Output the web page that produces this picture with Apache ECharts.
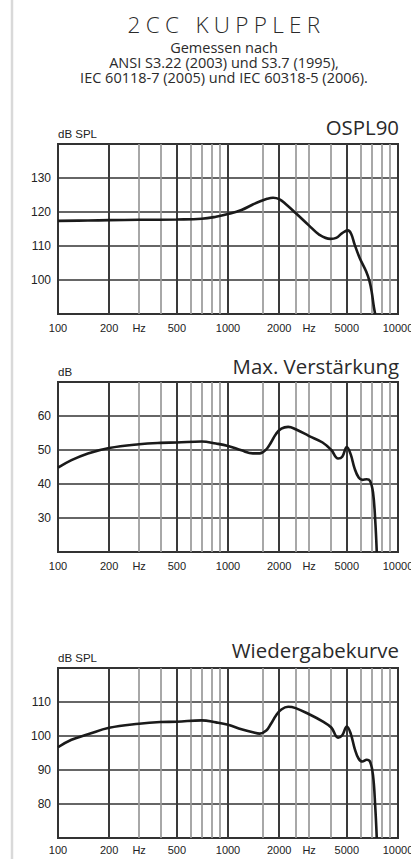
<!DOCTYPE html>
<html><head><meta charset="utf-8">
<script src="https://cdn.jsdelivr.net/npm/echarts@6/dist/echarts.min.js"></script>
<style>html,body{margin:0;padding:0;background:#fff;overflow:hidden}#c{width:411px;height:859px}</style>
</head><body><div id="c"></div>
<script>
// ---- text ----
const heading = '2CC KUPPLER';
const subLines = ['Gemessen nach', 'ANSI S3.22 (2003) und S3.7 (1995),', 'IEC 60118-7 (2005) und IEC 60318-5 (2006).'];
const chartTitles = ['OSPL90', 'Max. Verstärkung', 'Wiedergabekurve'];
const yNames = ['dB SPL', 'dB', 'dB SPL'];
const yMins = [90, 20, 70];
const yMaxs = [140, 70, 120];
// ---- x axis ticks / grid lines (Hz) ----
const xTickValues = [100, 200, 300, 500, 1000, 2000, 3000, 5000, 10000];
const xTickLabels = ['100', '200', 'Hz', '500', '1000', '2000', 'Hz', '5000', '10000'];
const majorLines = [200, 500, 1000, 2000, 5000];
const minorLines = [300, 400, 600, 700, 800, 900, 1600, 2500, 3000, 4000, 6000, 7000, 8000, 9000];
// ---- data ----
const osplFreq = [100, 150, 200, 300, 500, 700, 850, 1000, 1200, 1400, 1536, 1700, 1840, 2000, 2200, 2500, 3000, 3450, 4000, 4330, 4700, 5070, 5300, 5560, 5950, 6500, 6800, 7020, 7200, 7340];
const osplDb = [117.4, 117.5, 117.6, 117.7, 117.8, 118.0, 118.6, 119.4, 120.6, 122.2, 123.1, 123.9, 124.2, 123.8, 122.2, 119.7, 116.0, 113.3, 112.1, 112.4, 113.8, 114.6, 113.6, 110.4, 106.5, 102.5, 99.6, 96.2, 92.3, 90];
const gainFreq = [100, 120, 150, 200, 300, 400, 500, 700, 850, 1000, 1200, 1400, 1536, 1680, 1790, 1920, 2060, 2260, 2500, 3000, 3600, 4050, 4440, 4700, 5000, 5270, 5560, 5870, 6170, 6540, 6850, 7130, 7340, 7500];
const gainDb = [44.8, 47.0, 49.0, 50.6, 51.7, 52.1, 52.2, 52.5, 51.9, 51.2, 49.9, 49.0, 49.0, 50.2, 52.2, 54.8, 56.3, 56.8, 56.1, 54.1, 52.2, 50.0, 47.5, 48.0, 50.9, 48.7, 44.5, 41.9, 41.2, 41.4, 40.9, 37.5, 29.6, 20];
const respFreq = [100, 120, 150, 200, 300, 400, 500, 700, 850, 1000, 1200, 1400, 1536, 1680, 1790, 1920, 2060, 2260, 2500, 3000, 3600, 4050, 4440, 4700, 5000, 5270, 5560, 5870, 6170, 6540, 6850, 7130, 7340, 7500];
const respDb = [96.7, 98.9, 100.5, 102.4, 103.6, 104.1, 104.2, 104.6, 104.0, 103.3, 102.0, 101.1, 100.7, 101.6, 103.6, 106.1, 107.8, 108.6, 108.2, 106.4, 104.3, 102.5, 99.5, 100.2, 102.8, 100.7, 96.3, 93.3, 92.5, 93.0, 92.4, 88.4, 79.6, 70];

const curves = [[osplFreq, osplDb], [gainFreq, gainDb], [respFreq, respDb]];
const gridTops = [144, 382, 668];
const xLabelMargins = [8, 8, 6];
const titleY = [127, 366, 650];
const LABEL_FONT = '"Liberation Sans", Arial, sans-serif';
const TITLE_FONT = '"Open Sans", sans-serif';

const chart = echarts.init(document.getElementById('c'), null, {renderer: 'svg', width: 411, height: 859});

const grids = [], xAxes = [], yAxes = [], series = [];
gridTops.forEach((top, i) => {
  grids.push({left: 58, top: top, width: 340, height: 170, show: true, borderColor: '#333', borderWidth: 2,
    backgroundColor: 'transparent', containLabel: false, outerBoundsMode: 'none'});
  xAxes.push({type: 'log', logBase: 10, gridIndex: i, min: 100, max: 10000,
    axisLine: {show: false}, axisTick: {show: false}, splitLine: {show: false}, minorTick: {show: false},
    axisLabel: {customValues: xTickValues, margin: xLabelMargins[i], fontSize: 11, color: '#222', fontFamily: LABEL_FONT,
      hideOverlap: false,
      formatter: v => { const k = xTickValues.findIndex(t => Math.abs(t - v) < t * 1e-6); return k >= 0 ? xTickLabels[k] : ''; }}});
  yAxes.push({type: 'value', gridIndex: i, min: yMins[i], max: yMaxs[i], interval: 10,
    axisLine: {show: false}, axisTick: {show: false},
    axisLabel: {showMinLabel: false, showMaxLabel: false, margin: 7, fontSize: 12, color: '#222', fontFamily: LABEL_FONT},
    splitLine: {show: true, lineStyle: {color: '#333', width: 1.6}},
    name: yNames[i], nameLocation: 'end', nameGap: 10.5, nameMoveOverlap: false,
    nameTextStyle: {align: 'left', verticalAlign: 'middle', fontSize: 11.5, color: '#222', fontFamily: LABEL_FONT}});
  const [fr, db] = curves[i];
  series.push({type: 'line', xAxisIndex: i, yAxisIndex: i, data: fr.map((f, j) => [f, db[j]]),
    smooth: 0.4, symbol: 'none', showSymbol: false, z: 3, silent: true, clip: true,
    lineStyle: {color: '#1a1a1a', width: 2.6},
    markLine: {silent: true, symbol: 'none', z: 1, animation: false, label: {show: false},
      lineStyle: {color: '#999', width: 1.7, type: 'solid'},
      emphasis: {disabled: true},
      data: minorLines.map(v => ({xAxis: v})).concat(majorLines.map(v => ({xAxis: v, lineStyle: {color: '#3a3a3a', width: 2, type: 'solid'}})))}});
});

const graphics = [
  {type: 'line', shape: {x1: 12, y1: 0, x2: 12, y2: 859}, style: {stroke: '#d9d9d9', lineWidth: 2.5}},
  {type: 'text', x: 226.5, y: 24.5, style: {text: heading, fontSize: 22.5, fontWeight: 300, fontFamily: TITLE_FONT, fill: '#2a2a2a',
    align: 'center', verticalAlign: 'middle', textAlign: 'center', textVerticalAlign: 'middle'}},
  {type: 'text', x: 224, y: 40.5, style: {text: subLines.join('\n'), fontSize: 14.5, lineHeight: 14.8, fontFamily: TITLE_FONT, fill: '#2a2a2a',
    align: 'center', verticalAlign: 'top', textAlign: 'center', textVerticalAlign: 'top'}}
];
chartTitles.forEach((t, k) => graphics.push({type: 'text', x: 399, y: titleY[k], style: {text: t, fontSize: 20.4, fontFamily: TITLE_FONT, fill: '#2a2a2a',
  align: 'right', verticalAlign: 'middle', textAlign: 'right', textVerticalAlign: 'middle'}}));

chart.setOption({
  animation: false,
  backgroundColor: '#fff',
  grid: grids, xAxis: xAxes, yAxis: yAxes, series: series,
  graphic: {elements: graphics}
});

function spaceHeading() {
  document.querySelectorAll('#c text').forEach(t => { if (t.textContent === heading) t.setAttribute('letter-spacing', '5.3'); });
}
spaceHeading();
chart.on('finished', spaceHeading);
</script></body></html>
